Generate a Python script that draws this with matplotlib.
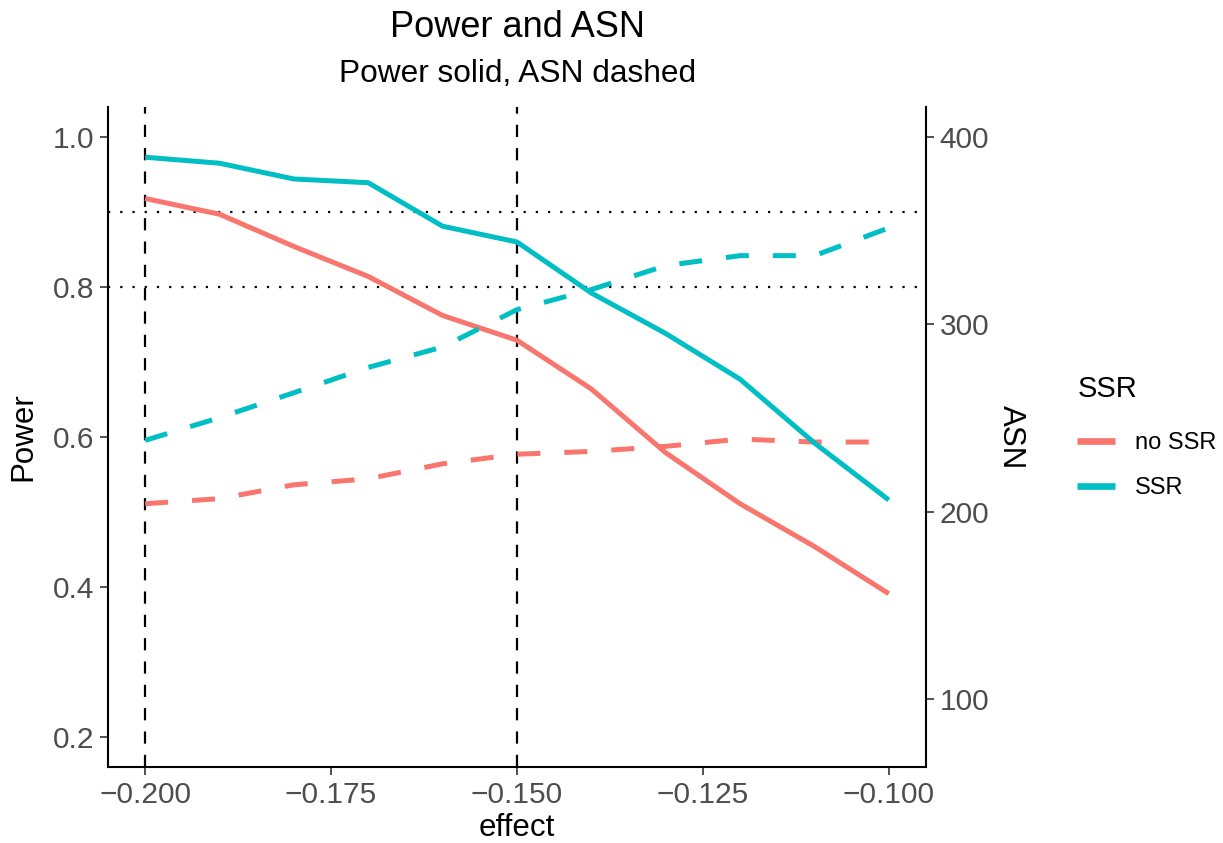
import matplotlib
matplotlib.use("Agg")
import matplotlib.pyplot as plt

plt.rcParams['font.family'] = ['Liberation Sans', 'DejaVu Sans']

effect = [-0.20, -0.19, -0.18, -0.17, -0.16, -0.15, -0.14, -0.13, -0.12, -0.11, -0.10]

power_no_ssr = [0.918, 0.897, 0.854, 0.814, 0.762, 0.729, 0.664, 0.579, 0.511, 0.454, 0.391]
power_ssr = [0.973, 0.965, 0.944, 0.939, 0.881, 0.860, 0.792, 0.738, 0.677, 0.592, 0.516]

asn_no_ssr = [204.4, 207.1, 214.5, 217.7, 225.7, 230.8, 232.3, 235.0, 238.9, 237.3, 237.3]
asn_ssr = [238.2, 250.3, 263.6, 277.1, 288.0, 307.9, 318.6, 331.4, 336.7, 336.7, 351.5]

groups = ['no SSR', 'SSR']
colors = ['#F8766D', '#00BFC4']
asn_scale = 400  # ASN axis = Power * 400

fig = plt.figure(figsize=(12.23, 8.43), dpi=100)
ax = fig.add_axes([0.0883, 0.0902, 0.6688, 0.7829])

# reference lines
for xv in [-0.20, -0.15]:
    ax.axvline(xv, color='black', lw=1.6, ls=(0, (5.5, 5)), zorder=1)
for yv in [0.8, 0.9]:
    ax.axhline(yv, color='black', lw=1.6, ls=(0, (1, 4.5)), zorder=1)

lines = []
for pw, asn, col, g in zip([power_no_ssr, power_ssr], [asn_no_ssr, asn_ssr], colors, groups):
    l, = ax.plot(effect, pw, color=col, lw=3.6, solid_capstyle='butt', label=g, zorder=3)
    ax.plot(effect, [a / asn_scale for a in asn], color=col, lw=3.6,
            ls=(0, (4.6, 4.8)), dash_capstyle='butt', zorder=3)
    lines.append(l)

ax.set_xlim(-0.205, -0.095)
ax.set_ylim(0.16, 1.04)
ax.set_xticks([-0.200, -0.175, -0.150, -0.125, -0.100])
ax.set_xticklabels(['\u22120.200', '\u22120.175', '\u22120.150', '\u22120.125', '\u22120.100'])
ax.set_yticks([0.2, 0.4, 0.6, 0.8, 1.0])
ax.set_yticklabels(['0.2', '0.4', '0.6', '0.8', '1.0'])

ax2 = ax.twinx()
ax2.set_ylim(0.16 * asn_scale, 1.04 * asn_scale)
ax2.set_yticks([100, 200, 300, 400])

for a in (ax, ax2):
    a.spines['top'].set_visible(False)
    a.tick_params(labelsize=21.5, labelcolor='#4D4D4D', color='#333333', length=6, width=1.2, pad=4)
    for s in a.spines.values():
        s.set_linewidth(1.5)
ax.spines['right'].set_visible(False)
ax2.spines['left'].set_visible(False)
ax2.spines['bottom'].set_visible(False)

ax.set_xlabel('effect', fontsize=22.5, labelpad=3)
ax.set_ylabel('Power', fontsize=22.5, labelpad=10)
ax2.set_ylabel('ASN', fontsize=22.5, rotation=270, labelpad=26)

fig.text(0.423, 0.967, 'Power and ASN', ha='center', va='center', fontsize=26)
fig.text(0.423, 0.912, 'Power solid, ASN dashed', ha='center', va='center', fontsize=22.8)

leg = fig.legend(lines, groups, title='SSR', loc='upper left', bbox_to_anchor=(0.881, 0.5555),
                 frameon=False, fontsize=17, title_fontsize=21, handlelength=1.6,
                 handletextpad=0.85, labelspacing=1.0, alignment='left',
                 borderaxespad=0, borderpad=0)
leg._legend_box.sep = 21
for h in leg.legend_handles:
    h.set_linewidth(4.8)

fig.savefig('out.png', dpi=100)
